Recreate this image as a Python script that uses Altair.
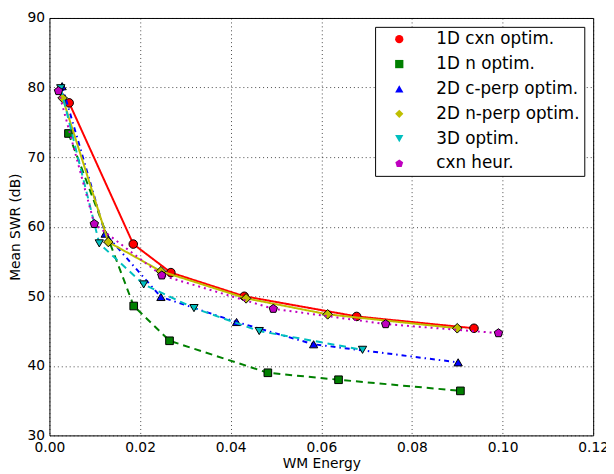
import altair as alt
import pandas as pd

series_names = ["1D cxn optim.", "1D n optim.", "2D c-perp optim.",
                "2D n-perp optim.", "3D optim.", "cxn heur."]

x_1d_cxn = [0.00435, 0.0185, 0.0268, 0.0430, 0.0678, 0.0937]
y_1d_cxn = [77.8, 57.5, 53.4, 50.0, 47.1, 45.4]

x_1d_n = [0.0042, 0.0186, 0.0265, 0.0482, 0.0638, 0.0907]
y_1d_n = [73.4, 48.6, 43.6, 39.0, 38.0, 36.4]

x_2d_c = [0.0028, 0.0123, 0.0246, 0.0413, 0.0583, 0.0902]
y_2d_c = [80.2, 59.0, 49.9, 46.3, 43.1, 40.5]

x_2d_n = [0.0029, 0.0130, 0.0246, 0.0434, 0.0614, 0.0900]
y_2d_n = [78.5, 57.8, 53.6, 49.7, 47.4, 45.4]

x_3d = [0.0025, 0.0110, 0.0208, 0.0319, 0.0463, 0.0691]
y_3d = [79.9, 57.6, 51.7, 48.3, 45.0, 42.3]

x_heur = [0.0020, 0.0099, 0.0248, 0.0494, 0.0742, 0.0991]
y_heur = [79.5, 60.4, 53.0, 48.2, 46.0, 44.7]

xs = [x_1d_cxn, x_1d_n, x_2d_c, x_2d_n, x_3d, x_heur]
ys = [y_1d_cxn, y_1d_n, y_2d_c, y_2d_n, y_3d, y_heur]

colors = ["#ff0000", "#008000", "#0000ff", "#bfbf00", "#00bfbf", "#bf00bf"]
pentagon = "M0,-1L0.951,-0.309L0.588,0.809L-0.588,0.809L-0.951,-0.309Z"
shapes = ["circle", "square", "triangle-up", "diamond", "triangle-down", pentagon]
dashes = [[1, 0], [7, 5], [5, 4, 1.5, 4], [1, 0], [7, 5], [2, 4]]
sizes = [75, 60, 70, 95, 70, 80]

rows = []
for name, xv, yv in zip(series_names, xs, ys):
    for i, (a, b) in enumerate(zip(xv, yv)):
        rows.append({"series": name, "x": a, "y": b, "order": i})
df = pd.DataFrame(rows)

x_ticks = [0.0, 0.02, 0.04, 0.06, 0.08, 0.10, 0.12]
y_ticks = [30, 40, 50, 60, 70, 80, 90]

xenc = alt.X("x:Q", title="WM Energy",
             scale=alt.Scale(domain=[0, 0.12], nice=False, zero=False),
             axis=alt.Axis(values=x_ticks, format=".2f", labelFlush=False))
yenc = alt.Y("y:Q", title="Mean SWR (dB)",
             scale=alt.Scale(domain=[30, 90], nice=False, zero=False),
             axis=alt.Axis(values=y_ticks, format="d", labelFlush=False))

leg = alt.Legend(title=None, symbolStrokeColor="black", symbolStrokeWidth=1)

base = alt.Chart(df)
layers = []
for k, name in enumerate(series_names):
    line = base.transform_filter(alt.datum.series == name).mark_line(
        color=colors[k], strokeWidth=2, strokeDash=dashes[k], clip=True
    ).encode(x=xenc, y=yenc, order="order:Q")
    pts = base.transform_filter(alt.datum.series == name).mark_point(
        filled=True, stroke="black", strokeWidth=1, strokeOpacity=1,
        opacity=1, size=sizes[k]
    ).encode(
        x=xenc, y=yenc,
        fill=alt.Fill("series:N", scale=alt.Scale(domain=series_names, range=colors),
                      legend=leg),
        shape=alt.Shape("series:N", scale=alt.Scale(domain=series_names, range=shapes),
                        legend=leg),
    )
    layers += [line, pts]

chart = alt.layer(*layers).properties(
    width=551, height=423,
    autosize=alt.AutoSizeParams(type="none"),
    padding={"left": 42, "top": 7, "right": 13, "bottom": 36},
).configure(font="DejaVu Sans").configure_view(
    stroke="black", strokeWidth=1
).configure_axis(
    grid=True, gridColor="black", gridDash=[1, 3], gridWidth=0.8, gridOpacity=0.9,
    domain=False, ticks=False,
    labelFontSize=14, titleFontSize=14, labelColor="black", titleColor="black",
    titleFontWeight="normal", labelPadding=5,
).configure_axisX(titlePadding=3).configure_axisY(titlePadding=5).configure_legend(
    orient="top-right", offset=9, padding=4, strokeColor="black", fillColor="white",
    cornerRadius=0, labelFontSize=17, labelColor="black", rowPadding=7.2,
    symbolSize=70, symbolStrokeColor="black", symbolStrokeWidth=1,
    symbolOffset=12, labelOffset=29, labelLimit=400,
)

chart.save("out.html", embed_options={"renderer": "svg", "actions": False})
